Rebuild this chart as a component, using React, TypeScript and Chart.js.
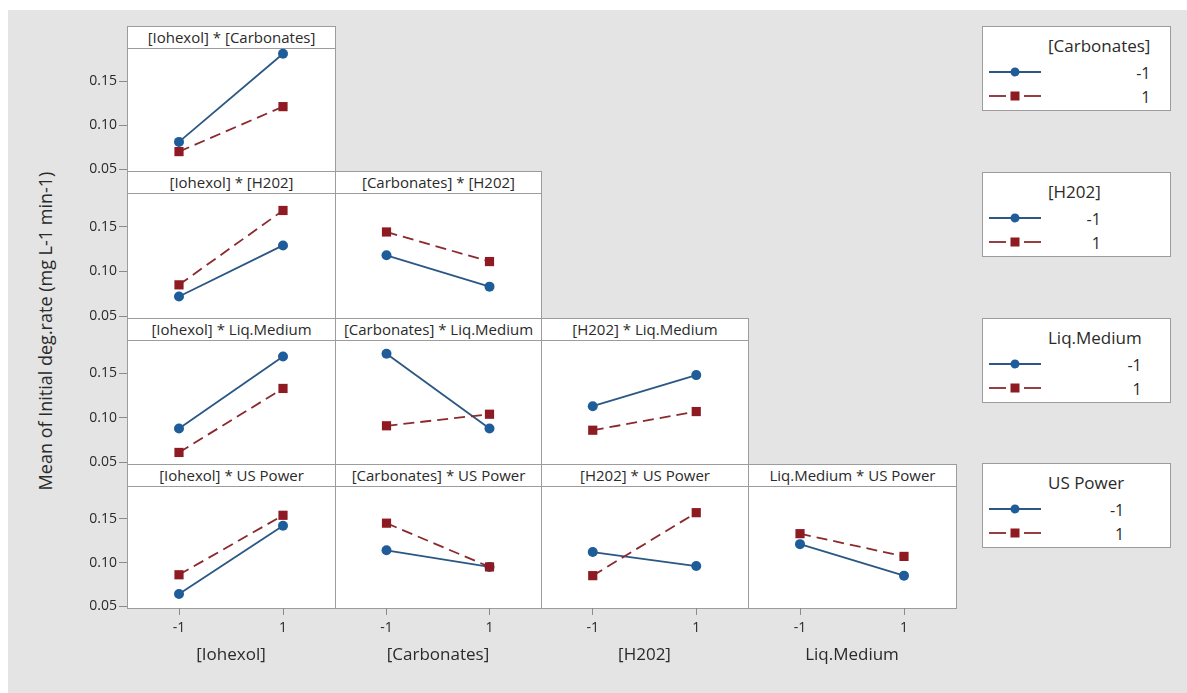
import React, { useEffect, useRef } from 'react';
import { Chart, registerables } from 'chart.js';

Chart.register(...registerables);

// ---------- data ----------
const factors = ['[Iohexol]', '[Carbonates]', '[H202]', 'Liq.Medium', 'US Power'];
const levelLabels = ['-1', '1'];
const xTickValues = [-1, 1];
const yTickValues = [0.05, 0.1, 0.15];
const yAxisTitle = 'Mean of Initial deg.rate (mg L-1 min-1)';

// each array: [mean at x = -1, mean at x = 1]; "Low" = trace level -1, "High" = trace level 1
const iohexolCarbonatesLow = [0.081, 0.181];
const iohexolCarbonatesHigh = [0.07, 0.121];
const iohexolH202Low = [0.072, 0.129];
const iohexolH202High = [0.085, 0.168];
const carbonatesH202Low = [0.118, 0.083];
const carbonatesH202High = [0.144, 0.111];
const iohexolLiqLow = [0.088, 0.169];
const iohexolLiqHigh = [0.061, 0.133];
const carbonatesLiqLow = [0.172, 0.088];
const carbonatesLiqHigh = [0.091, 0.104];
const h202LiqLow = [0.113, 0.148];
const h202LiqHigh = [0.086, 0.107];
const iohexolPowerLow = [0.064, 0.142];
const iohexolPowerHigh = [0.086, 0.154];
const carbonatesPowerLow = [0.114, 0.095];
const carbonatesPowerHigh = [0.145, 0.095];
const h202PowerLow = [0.112, 0.096];
const h202PowerHigh = [0.085, 0.157];
const liqPowerLow = [0.121, 0.085];
const liqPowerHigh = [0.133, 0.107];

// panels: x factor index, trace factor index, series
const panels = [
  { xf: 0, tf: 1, low: iohexolCarbonatesLow, high: iohexolCarbonatesHigh },
  { xf: 0, tf: 2, low: iohexolH202Low, high: iohexolH202High },
  { xf: 1, tf: 2, low: carbonatesH202Low, high: carbonatesH202High },
  { xf: 0, tf: 3, low: iohexolLiqLow, high: iohexolLiqHigh },
  { xf: 1, tf: 3, low: carbonatesLiqLow, high: carbonatesLiqHigh },
  { xf: 2, tf: 3, low: h202LiqLow, high: h202LiqHigh },
  { xf: 0, tf: 4, low: iohexolPowerLow, high: iohexolPowerHigh },
  { xf: 1, tf: 4, low: carbonatesPowerLow, high: carbonatesPowerHigh },
  { xf: 2, tf: 4, low: h202PowerLow, high: h202PowerHigh },
  { xf: 3, tf: 4, low: liqPowerLow, high: liqPowerHigh },
];

// ---------- layout / style ----------
const HEADER_TOPS = [26, 171, 318, 464];
const PLOT_BOTTOMS = [171, 318, 464, 608];
const COL_EDGES = [127, 335, 541, 748, 956];
const HEADER_H = 22;
const Y_AXIS_W = 45;
const X_AXIS_H = 72;
const EXTRA_BOTTOM = 12;
const Y_MIN = 0.048;
const Y_MAX = 0.1875;
const BLUE = '#1f5c9a';
const BLUE_LINE = '#2a5784';
const RED = '#8e1b22';
const RED_LINE = '#8a2a2e';
const FONT = "'Open Sans', 'Noto Sans', sans-serif";
const TEXT = '#2a2a2a';
const FRAME = '#9c9c9c';
const BG = '#e4e4e4';
const LEGEND_TOPS = [26, 172, 318, 463];

Chart.defaults.font.family = FONT;

function PanelChart({ xf, tf, low, high }: any) {
  const ref = useRef<HTMLCanvasElement>(null);
  const row = tf - 1;
  const col = xf;
  const showY = col === 0;
  const showX = row === 3;
  const L = COL_EDGES[col];
  const R = COL_EDGES[col + 1];
  const top = HEADER_TOPS[row] + HEADER_H;
  const bottom = PLOT_BOTTOMS[row];
  const cl = L - (showY ? Y_AXIS_W : 0);
  const cw = R - cl;
  const extra = showX ? X_AXIS_H : showY ? EXTRA_BOTTOM : 0;
  const ch = bottom - top + extra;

  useEffect(() => {
    const zeroPad = (s: any) => {
      s.paddingLeft = 0;
      s.paddingRight = 0;
      s.paddingTop = 0;
      s.paddingBottom = 0;
    };
    const chart = new Chart(ref.current as HTMLCanvasElement, {
      type: 'line',
      data: {
        datasets: [
          {
            data: xTickValues.map((x, i) => ({ x, y: high[i] })),
            borderColor: RED_LINE,
            backgroundColor: RED,
            pointBackgroundColor: RED,
            pointBorderColor: RED,
            borderWidth: 1.8,
            borderDash: [11, 6],
            pointStyle: 'rect',
            pointRadius: 6.5,
            pointBorderWidth: 0,
            order: 0,
          },
          {
            data: xTickValues.map((x, i) => ({ x, y: low[i] })),
            borderColor: BLUE_LINE,
            backgroundColor: BLUE,
            pointBackgroundColor: BLUE,
            pointBorderColor: BLUE,
            borderWidth: 1.8,
            pointStyle: 'circle',
            pointRadius: 5,
            pointBorderWidth: 0,
            order: 1,
          },
        ],
      },
      options: {
        animation: false,
        responsive: false,
        maintainAspectRatio: false,
        events: [],
        layout: {
          autoPadding: false,
          padding: { left: 0, right: 0, top: 0, bottom: !showX && showY ? EXTRA_BOTTOM : 0 },
        },
        plugins: { legend: { display: false }, tooltip: { enabled: false } },
        scales: {
          x: {
            type: 'linear',
            min: -2,
            max: 2,
            display: showX,
            afterBuildTicks: (s: any) => {
              s.ticks = xTickValues.map((v) => ({ value: v }));
            },
            afterFit: (s: any) => {
              if (showX) {
                s.height = X_AXIS_H;
                zeroPad(s);
              }
            },
            ticks: {
              autoSkip: false,
              maxRotation: 0,
              padding: 5,
              color: TEXT,
              font: { size: 14 },
              callback: (v: any) => levelLabels[xTickValues.indexOf(v)] ?? '',
            },
            grid: { display: true, drawOnChartArea: false, drawTicks: true, tickLength: 7, tickColor: '#8a8a8a', color: '#8a8a8a' },
            border: { display: false },
            title: { display: true, text: factors[xf], color: TEXT, font: { size: 17 }, padding: { top: 0, bottom: 15 } },
          },
          y: {
            type: 'linear',
            min: Y_MIN,
            max: Y_MAX,
            display: showY,
            afterBuildTicks: (s: any) => {
              s.ticks = yTickValues.map((v) => ({ value: v }));
            },
            afterFit: (s: any) => {
              if (showY) {
                s.width = Y_AXIS_W;
                zeroPad(s);
              }
            },
            ticks: {
              padding: 2,
              color: TEXT,
              font: { size: 14 },
              callback: (v: any) => Number(v).toFixed(2),
            },
            grid: { display: true, drawOnChartArea: false, drawTicks: true, tickLength: 8, tickColor: '#8a8a8a', color: '#8a8a8a' },
            border: { display: false },
          },
        },
      } as any,
    });
    return () => chart.destroy();
  }, []);

  return (
    <>
      <div
        style={{
          position: 'absolute',
          left: L,
          top: HEADER_TOPS[row],
          width: R - L + 1,
          height: bottom - HEADER_TOPS[row] + 1,
          boxSizing: 'border-box',
          border: `1px solid ${FRAME}`,
          background: '#fff',
        }}
      >
        <div
          style={{
            height: HEADER_H - 1,
            lineHeight: `${HEADER_H - 1}px`,
            borderBottom: `1px solid ${FRAME}`,
            textAlign: 'center',
            fontFamily: FONT,
            fontSize: 15,
            color: TEXT,
            whiteSpace: 'nowrap',
            overflow: 'hidden',
          }}
        >
          {`${factors[xf]} * ${factors[tf]}`}
        </div>
      </div>
      <canvas
        ref={ref}
        width={cw}
        height={ch}
        style={{ position: 'absolute', left: cl, top, width: cw, height: ch }}
      />
    </>
  );
}

function LegendBox({ title, top }: any) {
  return (
    <div
      style={{
        position: 'absolute',
        left: 982,
        top,
        width: 189,
        height: 85,
        boxSizing: 'border-box',
        border: `1px solid ${FRAME}`,
        background: '#fff',
      }}
    >
      <svg width={60} height={84} style={{ position: 'absolute', left: 6, top: -1 }}>
        <line x1={0} x2={52} y1={46} y2={46} stroke={BLUE_LINE} strokeWidth={1.8} />
        <circle cx={26} cy={46} r={4.5} fill={BLUE} />
        <line x1={0} x2={17} y1={70} y2={70} stroke={RED_LINE} strokeWidth={1.8} />
        <line x1={35} x2={52} y1={70} y2={70} stroke={RED_LINE} strokeWidth={1.8} />
        <rect x={21.5} y={65.5} width={9} height={9} fill={RED} />
      </svg>
      <div
        style={{
          position: 'absolute',
          left: 65,
          top: 6,
          textAlign: 'right',
          fontFamily: FONT,
          color: TEXT,
          whiteSpace: 'nowrap',
        }}
      >
        <div style={{ lineHeight: '26px', height: 28, fontSize: 17 }}>{title}</div>
        {levelLabels.map((l) => (
          <div key={l} style={{ lineHeight: '24px', fontSize: 16 }}>
            {l}
          </div>
        ))}
      </div>
    </div>
  );
}

export default function App() {
  return (
    <div style={{ position: 'absolute', left: 0, top: 0, width: 1187, height: 693, overflow: 'hidden' }}>
      <div style={{ position: 'absolute', left: 8, top: 10, width: 1179, height: 683, background: BG }} />
      <div
        style={{
          position: 'absolute',
          left: 45,
          top: 331,
          transform: 'translate(-50%, -50%) rotate(-90deg)',
          fontFamily: FONT,
          fontSize: 18,
          color: TEXT,
          whiteSpace: 'nowrap',
        }}
      >
        {yAxisTitle}
      </div>
      {panels.map((p, i) => (
        <PanelChart key={i} {...p} />
      ))}
      {factors.slice(1).map((f, i) => (
        <LegendBox key={f} title={f} top={LEGEND_TOPS[i]} />
      ))}
    </div>
  );
}
